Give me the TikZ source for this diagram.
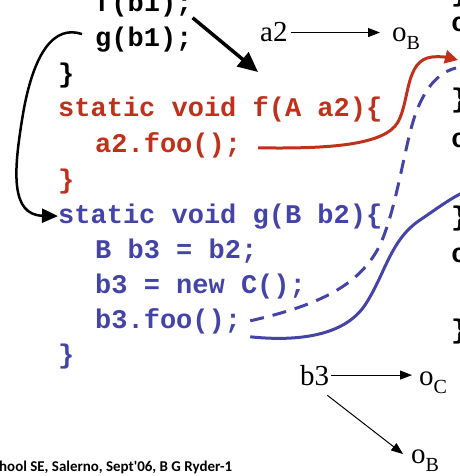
\documentclass[tikz,border=0pt]{standalone}
\usepackage{fontspec}
\setmainfont{Liberation Serif}
\newfontfamily\codefont{Liberation Mono}
\newfontfamily\footfont{Carlito}
\usetikzlibrary{arrows.meta}
\definecolor{codered}{RGB}{192,48,26}
\definecolor{codeblue}{RGB}{68,68,168}
\begin{document}
\begin{tikzpicture}[x=1pt,y=-1pt,
  code/.style={anchor=base west,inner sep=0pt,font=\codefont\bfseries\fontsize{27}{27}\selectfont},
  lbl/.style={anchor=base west,inner sep=0pt,font=\fontsize{29}{29}\selectfont},
  ptr/.style={-{Triangle[length=12pt,width=9pt]},line width=1pt},
  bigarrow/.style={-{Triangle[length=20pt,width=18pt]},line width=3.5pt},
  callcurve/.style={-{Triangle[length=16pt,width=14pt]},line width=2.5pt},
  redflow/.style={codered,line width=3pt,-{Triangle[length=13pt,width=13pt]}},
  blueflow/.style={codeblue,line width=3pt},
  bluedash/.style={codeblue,line width=3pt,dash pattern=on 14pt off 9pt}
]
\useasboundingbox (0,0) rectangle (459,476);

% code column
\node[code] (fb1) at (95,12) {f(b1);};
\node[code] (gb1) at (95,47) {g(b1);};
\node[code] (br1) at (58,83) {\}};
\node[code,text=codered] (sf) at (58,117) {static void f(A a2)\{};
\node[code,text=codered] (afoo) at (95,152) {a2.foo();};
\node[code,text=codered] (br2) at (58,188) {\}};
\node[code,text=codeblue] (sg) at (58,223) {static void g(B b2)\{};
\node[code,text=codeblue] (bb3) at (95,258) {B b3 = b2;};
\node[code,text=codeblue] (bnew) at (95,293) {b3 = new C();};
\node[code,text=codeblue] (b3foo) at (95,328) {b3.foo();};
\node[code,text=codeblue] (br3) at (58,363) {\}};

% right column fragments (clipped by page edge)
\node[code] (r0) at (451,2) {\}};
\node[code] (r1) at (451,32) {c};
\node[code] (r2) at (451,108) {\}};
\node[code] (r3) at (451,147) {c};
\node[code] (r4) at (451,225) {\}};
\node[code] (r5) at (451,262) {c};
\node[code] (r6) at (451,338) {\}};

% points-to labels
\node[lbl] (a2) at (260,42) {a2};
\node[lbl] (oB1) at (392,42) {o\raisebox{-8pt}{\fontsize{20}{20}\selectfont B}};
\node[lbl] (b3) at (300,385) {b3};
\node[lbl] (oC) at (419,385) {o\raisebox{-8pt}{\fontsize{20}{20}\selectfont C}};
\node[lbl] (oB2) at (411,463) {o\raisebox{-8pt}{\fontsize{20}{20}\selectfont B}};

\draw[ptr,shorten <=3pt,shorten >=12pt] (a2.east) -- (a2.east -| oB1.west);
\draw[ptr,shorten <=2pt,shorten >=7pt] (b3.east) -- (b3.east -| oC.west);
\draw[ptr,shorten <=16pt,shorten >=10pt] (b3.south) -- (oB2.west);

% call arrows
\coordinate (fcall) at (258,72);
\draw[bigarrow] (fb1.south east) -- (fcall);
\draw[callcurve] ([xshift=-13pt,yshift=6pt]gb1.west) .. controls (55,25) and (33,50) .. (22,120)
   .. controls (14,170) and (10,215) .. (sg.west);

% flow curves
\coordinate (redtip) at (458,60);
\draw[redflow] ([xshift=17pt,yshift=-3pt]afoo.east) .. controls (330,149) and (385,145) .. (398,122)
   .. controls (410,100) and (405,60) .. (432,57) .. controls (442,56) and (450,58) .. (redtip);
\coordinate (dashend) at (456,68);
\draw[bluedash] ([xshift=9pt]b3foo.east) .. controls (320,305) and (360,285) .. (380,245)
   .. controls (398,205) and (405,140) .. (417,110) .. controls (427,85) and (440,72) .. (dashend);
\coordinate (solidend) at (462,193);
\draw[blueflow] ([xshift=9pt,yshift=-3pt]b3foo.south east) .. controls (300,342) and (345,335) .. (365,305)
   .. controls (385,275) and (390,240) .. (420,220) .. controls (435,210) and (448,200) .. (solidend);

% footer
\node[anchor=base west,inner sep=0pt] (foot) at (-1,471)
  {\resizebox{233pt}{!}{\footfont\bfseries\fontsize{13}{13}\selectfont hool SE, Salerno, Sept'06, B G Ryder-1}};
\end{tikzpicture}
\end{document}
